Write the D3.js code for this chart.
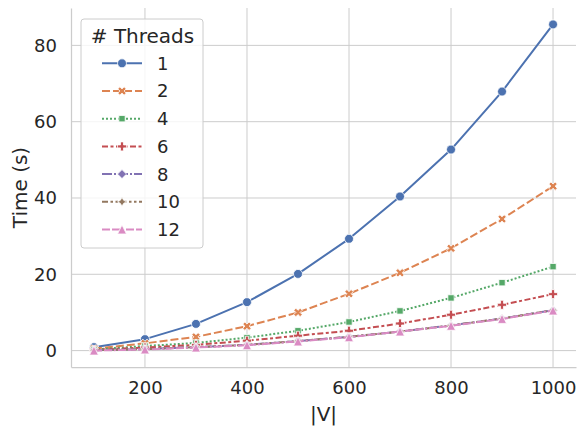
<!DOCTYPE html>
<html lang="en">
	<head>
		<meta charset="utf-8">
		<title>threads</title>
		<script type="text/javascript" src="https://cdn.jsdelivr.net/npm/d3@7"></script>
		<style type="text/css">
			body {
			  margin: 0;
			  background: #fff;
			  font-family: "DejaVu Sans", sans-serif;
			}

			.grid line {
			  stroke: #cccccc;
			  stroke-width: 1;
			}

			.tick text {
			  fill: #262626;
			  font-size: 18px;
			}
		</style>
	</head>
	<body>

		<script type="text/javascript">

			var w = 579;
			var h = 426;
			var margin = {top: 8, right: 3, bottom: 59, left: 71};

			// |V| values and run times (s) per thread count
			var sizes = [100, 200, 300, 400, 500, 600, 700, 800, 900, 1000];
			var threads = ["1", "2", "4", "6", "8", "10", "12"];

			var time_1  = [0.9, 3.0, 7.0, 12.7, 20.1, 29.3, 40.4, 52.7, 67.9, 85.5];
			var time_2  = [0.5, 1.9, 3.6, 6.4, 10.0, 14.9, 20.4, 26.8, 34.5, 43.1];
			var time_4  = [0.3, 1.2, 2.0, 3.4, 5.2, 7.5, 10.4, 13.8, 17.8, 22.0];
			var time_6  = [0.2, 0.8, 1.5, 2.6, 3.9, 5.2, 7.1, 9.4, 12.0, 14.8];
			var time_8  = [0.1, 0.4, 0.9, 1.5, 2.5, 3.6, 5.0, 6.6, 8.4, 10.6];
			var time_10 = [0.1, 0.4, 0.9, 1.5, 2.5, 3.6, 5.0, 6.6, 8.4, 10.6];
			var time_12 = [0.0, 0.3, 0.8, 1.4, 2.4, 3.5, 5.0, 6.5, 8.3, 10.5];

			var x_ticks = [200, 400, 600, 800, 1000];
			var y_ticks = [0, 20, 40, 60, 80];

			var all_times = [time_1, time_2, time_4, time_6, time_8, time_10, time_12];

			// seaborn "deep" palette, markers and dashes
			var colors = ["#4c72b0", "#dd8452", "#55a868", "#c44e52", "#8172b3", "#937860", "#da8bc3"];
			var markers = ["circle", "x", "square", "plus", "diamond", "star", "triangle"];
			var dashes = ["none", "8,3", "2,2", "6,2.5,3,2.5", "10,2,2,2", "6,2.5,2.5,2.5,2.5,2.5", "8,2,8,2,2,2"];

			var plus = "M-1.33,-4H1.33V-1.33H4V1.33H1.33V4H-1.33V1.33H-4V-1.33H-1.33Z";

			function marker_path(kind) {
				if (kind == "circle") { return "M4,0A4,4 0 1,1 -4,0A4,4 0 1,1 4,0Z"; }
				else if (kind == "square") { return "M-2.83,-2.83H2.83V2.83H-2.83Z"; }
				else if (kind == "diamond") { return "M0,-4L4,0L0,4L-4,0Z"; }
				else if (kind == "star") { return "M0,-4L1.41,-1.41L4,0L1.41,1.41L0,4L-1.41,1.41L-4,0L-1.41,-1.41Z"; }
				else if (kind == "triangle") { return "M0,-4L4,4L-4,4Z"; }
				else { return plus; }
			}

			// markers come out a bit bigger than 8px
			function marker_transform(kind) {
				return " scale(1.12)" + (kind == "x" ? " rotate(45)" : "");
			}

			var series = threads.map(function(t, i) {
				return {
					name: t,
					values: sizes.map(function(s, j) { return [s, all_times[i][j]]; }),
					color: colors[i],
					marker: markers[i],
					dash: dashes[i]
				};
			});

			var x = d3.scaleLinear()
					  .domain([55, 1045])
					  .range([margin.left, w - margin.right]);

			var y = d3.scaleLinear()
					  .domain([-4.3, 89.8])
					  .range([h - margin.bottom, margin.top]);

			var svg = d3.select("body").append("svg")
				.attr("width", w)
				.attr("height", h);

			// grid
			svg.append("g")
				.attr("class", "grid")
				.selectAll("line")
				.data(x_ticks)
				.enter()
				.append("line")
				.attr("x1", function(d) { return x(d); })
				.attr("x2", function(d) { return x(d); })
				.attr("y1", margin.top)
				.attr("y2", h - margin.bottom);

			svg.append("g")
				.attr("class", "grid")
				.selectAll("line")
				.data(y_ticks)
				.enter()
				.append("line")
				.attr("x1", margin.left)
				.attr("x2", w - margin.right)
				.attr("y1", function(d) { return y(d); })
				.attr("y2", function(d) { return y(d); });

			// axes
			var x_axis = svg.append("g")
				.attr("transform", "translate(0," + (h - margin.bottom) + ")")
				.call(d3.axisBottom(x).tickValues(x_ticks).tickFormat(d3.format("d")).tickSize(0).tickPadding(14));

			var y_axis = svg.append("g")
				.attr("transform", "translate(" + margin.left + ",0)")
				.call(d3.axisLeft(y).tickValues(y_ticks).tickFormat(d3.format("d")).tickSize(0).tickPadding(14));

			x_axis.select(".domain").attr("stroke", "#cccccc").attr("stroke-width", 1.25);
			y_axis.select(".domain").attr("stroke", "#cccccc").attr("stroke-width", 1.25);
			x_axis.selectAll("text").attr("font-family", "DejaVu Sans");
			y_axis.selectAll("text").attr("font-family", "DejaVu Sans");

			svg.append("text")
				.text("|V|")
				.attr("x", (margin.left + w - margin.right) / 2)
				.attr("y", 420.5)
				.attr("text-anchor", "middle")
				.attr("fill", "#262626")
				.style("font-size", "20px");

			svg.append("text")
				.text("Time (s)")
				.attr("transform", "translate(26.5," + ((margin.top + h - margin.bottom) / 2) + ") rotate(-90)")
				.attr("text-anchor", "middle")
				.attr("fill", "#262626")
				.style("font-size", "20px");

			// lines and markers
			var line = d3.line()
				.x(function(d) { return x(d[0]); })
				.y(function(d) { return y(d[1]); });

			var groups = svg.selectAll(".series")
				.data(series)
				.enter()
				.append("g")
				.attr("class", "series");

			groups.append("path")
				.attr("d", function(d) { return line(d.values); })
				.attr("fill", "none")
				.attr("stroke", function(d) { return d.color; })
				.attr("stroke-width", 2)
				.attr("stroke-linejoin", "round")
				.attr("stroke-dasharray", function(d) { return d.dash; });

			groups.each(function(s) {
				d3.select(this).selectAll(".pt")
					.data(s.values)
					.enter()
					.append("path")
					.attr("class", "pt")
					.attr("d", marker_path(s.marker))
					.attr("transform", function(d) { return "translate(" + x(d[0]) + "," + y(d[1]) + ")" + marker_transform(s.marker); })
					.attr("fill", s.color)
					.attr("stroke", "#fff")
					.attr("stroke-width", 0.7);
			});

			// legend
			var legend = svg.append("g")
				.attr("transform", "translate(81,19)");

			legend.append("rect")
				.attr("width", 122)
				.attr("height", 229)
				.attr("rx", 3)
				.attr("ry", 3)
				.attr("fill", "#fff")
				.attr("fill-opacity", 0.8)
				.attr("stroke", "#cccccc")
				.attr("stroke-width", 1);

			legend.append("text")
				.text("# Threads")
				.attr("x", 61.5)
				.attr("y", 23.5)
				.attr("text-anchor", "middle")
				.attr("fill", "#262626")
				.style("font-size", "20px");

			var entry = legend.selectAll(".entry")
				.data(series)
				.enter()
				.append("g")
				.attr("class", "entry")
				.attr("transform", function(d, i) { return "translate(0," + (44.3 + i * 27.7) + ")"; });

			entry.append("line")
				.attr("x1", 21)
				.attr("x2", 61)
				.attr("stroke", function(d) { return d.color; })
				.attr("stroke-width", 2)
				.attr("stroke-dasharray", function(d) { return d.dash; });

			entry.append("path")
				.attr("d", function(d) { return marker_path(d.marker); })
				.attr("transform", function(d) { return "translate(41,0)" + marker_transform(d.marker); })
				.attr("fill", function(d) { return d.color; })
				.attr("stroke", "#fff")
				.attr("stroke-width", 0.7);

			entry.append("text")
				.text(function(d) { return d.name; })
				.attr("x", 76)
				.attr("dy", "0.36em")
				.attr("fill", "#262626")
				.style("font-size", "18px");

		</script>
	</body>
</html>
